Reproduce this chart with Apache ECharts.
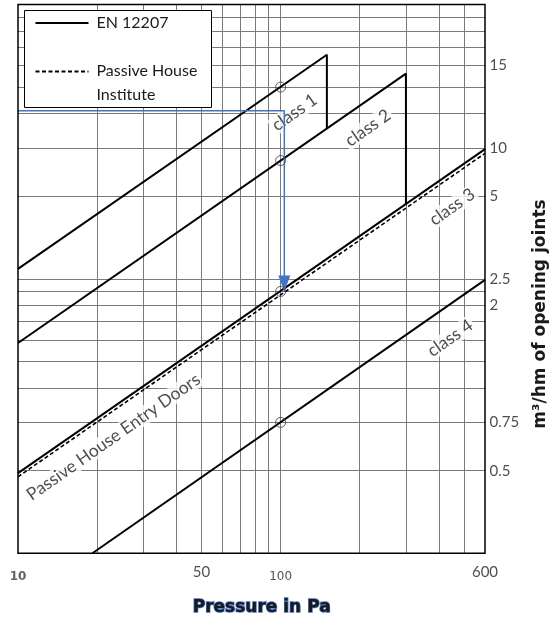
<!DOCTYPE html>
<html>
<head>
<meta charset="utf-8">
<script src="https://cdn.jsdelivr.net/npm/echarts@6/dist/echarts.min.js"></script>
<style>
  html, body { margin: 0; padding: 0; background: #fff; }
  #chart { width: 553px; height: 619px; }
</style>
</head>
<body>
<div id="chart"></div>
<script>
// Air permeability of windows and doors, log-log (EN 12207 classes)
const pressureTickValues = [10, 50, 100, 600];
const pressureTickLabels = ['10', '50', '100', '600'];
const flowTickValues = [15, 7.5, 5, 2.5, 2, 0.75, 0.5];
const flowTickLabels = ['15', '10', '5', '2.5', '2', '0.75', '0.5'];

// log paper grid
const gridPressures = [20, 30, 40, 50, 60, 70, 80, 90, 100, 200, 300, 400, 500];
const gridFlows = [0.5, 0.75, 1, 1.25, 1.5, 1.75, 2, 2.25, 2.5, 5, 7.5, 10, 12.5, 15, 17.5, 20, 22.5];

// EN 12207 class limit lines (pressure in Pa, flow in m3/hm)
const class1Pressure = [10, 150, 150];
const class1Flow = [2.72, 16.4, 8.84];
const class2Pressure = [10, 300, 300];
const class2Flow = [1.46, 14.0, 4.68];
const class3Pressure = [10, 600];
const class3Flow = [0.49, 7.43];
const class4Pressure = [19.2, 600];
const class4Flow = [0.25, 2.48];

// Passive House Institute entry door limit
const phiPressure = [10, 600];
const phiFlow = [0.475, 7.17];

// reference values at 100 Pa
const refPressure = 100;
const refFlows = [12.5, 6.75, 2.25, 0.75];

// reading arrow
const arrowPressure = [10, 103.3, 103.3];
const arrowFlow = [10.25, 10.25, 2.25];

// line annotations
const noteTexts = ['class 1', 'class 2', 'class 3', 'class 4', 'Passive House Entry Doors'];
const notePressure = [113, 215, 450, 442, 23.1];
const noteFlow = [10.1, 8.87, 4.57, 1.52, 0.663];

const FONT = 'Lato, "Open Sans", sans-serif';
const TITLE_FONT = '"DejaVu Sans", sans-serif';
const GRID_COLOR = '#7a7a7a';
const ARROW_COLOR = '#4472c4';

const pairs = (xs, ys) => xs.map((x, i) => [x, ys[i]]);

const chart = echarts.init(document.getElementById('chart'), null, { renderer: 'canvas' });

const classLine = (name, xs, ys) => ({
  name: name,
  type: 'line',
  data: pairs(xs, ys),
  showSymbol: false,
  symbol: 'none',
  lineStyle: { color: '#000', width: 2 },
  z: 5,
  silent: true
});

const option = {
  animation: false,
  grid: {
    left: 18, right: 68, top: 4.5, bottom: 65.7,
    show: true, borderColor: '#000', borderWidth: 1.5, backgroundColor: 'transparent',
    z: 10
  },
  xAxis: {
    type: 'log', logBase: 10, min: 10, max: 600,
    axisLine: { show: false }, axisTick: { show: false },
    axisLabel: { show: false }, splitLine: { show: false }, minorSplitLine: { show: false }
  },
  yAxis: {
    type: 'log', logBase: 10, min: 0.25, max: 25, position: 'right',
    axisLine: { show: false }, axisTick: { show: false },
    axisLabel: { show: false }, splitLine: { show: false }, minorSplitLine: { show: false }
  },
  series: [
    {
      // grid lines of the log paper
      type: 'line',
      data: [],
      silent: true,
      z: 1,
      markLine: {
        silent: true,
        symbol: ['none', 'none'],
        label: { show: false },
        lineStyle: { color: GRID_COLOR, width: 1, type: 'solid' },
        animation: false,
        data: gridPressures.map(p => ({ xAxis: p })).concat(gridFlows.map(q => ({ yAxis: q })))
      }
    },
    classLine('class 1', class1Pressure, class1Flow),
    classLine('class 2', class2Pressure, class2Flow),
    classLine('class 3', class3Pressure, class3Flow),
    classLine('class 4', class4Pressure, class4Flow),
    {
      name: 'Passive House Institute',
      type: 'line',
      data: pairs(phiPressure, phiFlow),
      showSymbol: false,
      symbol: 'none',
      lineStyle: { color: '#000', width: 1.6, type: [4, 2.5] },
      z: 5,
      silent: true
    },
    {
      // annotations along the lines
      type: 'scatter',
      data: pairs(notePressure, noteFlow),
      symbolSize: 1,
      itemStyle: { color: 'rgba(0,0,0,0)' },
      silent: true,
      z: 6,
      label: {
        show: true,
        position: 'inside',
        rotate: 35,
        align: 'center',
        verticalAlign: 'middle',
        formatter: p => noteTexts[p.dataIndex],
        fontFamily: FONT,
        fontSize: 17.5,
        color: '#1f1f1f',
        backgroundColor: '#fff',
        padding: [0, 2]
      }
    },
    {
      // reading arrow
      id: 'arrow',
      type: 'line',
      data: arrowPressure.map((p, i) => ({
        value: [p, arrowFlow[i]],
        symbol: i === arrowPressure.length - 1 ? 'triangle' : 'none'
      })),
      showSymbol: true,
      symbolSize: [12, 16],
      symbolRotate: 180,
      symbolOffset: [0, -8],
      clip: false,
      lineStyle: { color: ARROW_COLOR, width: 1.5 },
      itemStyle: { color: ARROW_COLOR },
      silent: true,
      z: 7
    },
    {
      // reference points at 100 Pa
      type: 'scatter',
      data: refFlows.map(q => [refPressure, q]),
      symbol: 'circle',
      symbolSize: 10,
      itemStyle: { color: 'rgba(0,0,0,0)', borderColor: '#3a3a3a', borderWidth: 1 },
      silent: true,
      z: 8
    },
    {
      // flow tick labels on the right
      type: 'scatter',
      data: flowTickValues.map(q => [600, q]),
      symbolSize: 1,
      itemStyle: { color: 'rgba(0,0,0,0)' },
      clip: false,
      silent: true,
      label: {
        show: true,
        position: 'right',
        distance: 4,
        formatter: p => flowTickLabels[p.dataIndex],
        fontFamily: FONT,
        fontSize: 15,
        color: '#1f1f1f'
      }
    },
    {
      // pressure tick labels below
      type: 'scatter',
      data: pressureTickValues.map((p, i) => ({
        value: [p, 0.25],
        label: (i === 0 || i === 2)
          ? { distance: 17, fontFamily: '"DejaVu Sans", sans-serif', fontSize: 12, fontWeight: i === 0 ? 'bold' : 'normal', color: i === 0 ? '#3a3a3a' : '#262626' }
          : { distance: 11 }
      })),
      symbolSize: 1,
      itemStyle: { color: 'rgba(0,0,0,0)' },
      clip: false,
      silent: true,
      label: {
        show: true,
        position: 'bottom',
        formatter: p => pressureTickLabels[p.dataIndex],
        fontFamily: FONT,
        fontSize: 15,
        color: '#1f1f1f'
      }
    }
  ],
  graphic: [
    {
      type: 'text',
      left: 192, top: 598,
      z: 30,
      style: { text: 'Pressure in Pa', fontFamily: TITLE_FONT, fontSize: 17, fontWeight: 'bold', fill: '#1a1a1a' }
    },
    {
      type: 'text',
      x: 541, y: 314,
      rotation: Math.PI / 2,
      z: 30,
      style: {
        text: 'm³/hm of opening joints', fontFamily: TITLE_FONT, fontSize: 17, fontWeight: 'bold', fill: '#1a1a1a',
        align: 'center', verticalAlign: 'middle'
      }
    },
    {
      // legend box
      type: 'group',
      left: 24, top: 10,
      children: [
        { type: 'rect', z: 40, shape: { x: 0, y: 0, width: 187, height: 97 }, style: { fill: '#fff', stroke: '#000', lineWidth: 1 } },
        { type: 'line', z: 41, shape: { x1: 11, y1: 12.5, x2: 64, y2: 12.5 }, style: { stroke: '#000', lineWidth: 2 } },
        { type: 'text', z: 41, x: 72, y: 4, style: { text: 'EN 12207', font: '16px ' + FONT, fill: '#1a1a1a' } },
        { type: 'line', z: 41, shape: { x1: 11, y1: 61, x2: 64, y2: 61 }, style: { stroke: '#000', lineWidth: 2, lineDash: [4, 2.5] } },
        { type: 'text', z: 41, x: 72, y: 52.5, style: { text: 'Passive House', font: '16px ' + FONT, fill: '#1a1a1a' } },
        { type: 'text', z: 41, x: 72, y: 76.5, style: { text: 'Institute', font: '16px ' + FONT, fill: '#1a1a1a' } }
      ]
    }
  ]
};

chart.setOption(option);

// the reading line enters from beyond the left frame at the same flow level
const start = chart.convertToPixel({ gridIndex: 0 }, [arrowPressure[0], arrowFlow[0]]);
chart.setOption({
  graphic: [{
    type: 'line',
    z: 7,
    shape: { x1: 0, y1: start[1], x2: start[0], y2: start[1] },
    style: { stroke: ARROW_COLOR, lineWidth: 1.5 }
  }]
});
</script>
</body>
</html>
